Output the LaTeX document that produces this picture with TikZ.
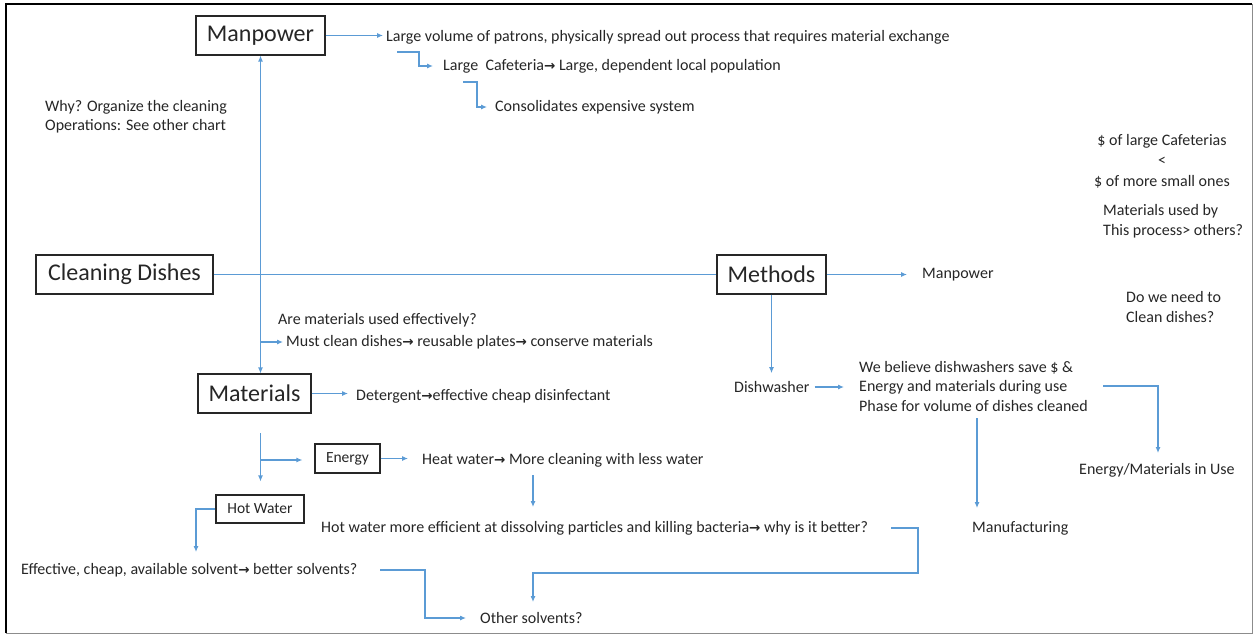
\documentclass[tikz,border=0pt]{standalone}
\usepackage{fontspec}
\setmainfont{Carlito}
\newfontfamily\dejavu{DejaVu Sans}
\usetikzlibrary{arrows.meta,calc}
\definecolor{lnblue}{RGB}{91,155,213}
\definecolor{txt}{RGB}{38,38,38}
\newcommand{\rarr}{{\dejavu\bfseries\fontsize{13.5}{13.5}\selectfont →}}
\tikzset{
  box/.style={draw=black!85, line width=1.1pt, inner sep=0pt, text=txt},
  bigbox/.style={box, font=\fontsize{24}{28}\selectfont, minimum height=39pt},
  midbox/.style={box, font=\fontsize{15.5}{18}\selectfont},
  txtn/.style={inner sep=0pt, anchor=west, text=txt, font=\fontsize{16}{19.5}\selectfont},
  arr/.style={draw=lnblue, line width=1.1pt, -{Latex[length=6pt,width=5pt]}},
  darr/.style={draw=lnblue, line width=1.1pt, {Latex[length=6pt,width=5pt]}-{Latex[length=6pt,width=5pt]}},
  ln/.style={draw=lnblue, line width=1.1pt}
}
\begin{document}
\begin{tikzpicture}[x=1pt,y=-1pt]
\useasboundingbox (0,0) rectangle (1255,634);
% frame
\draw[black, line width=2pt] (6,633) -- (6,4) -- (1252,4);
\draw[black!45, line width=1pt] (1252,4) -- (1252,633) -- (6,633);

% boxes
\node[bigbox, minimum width=129pt] (manpower) at (260.5,35.5) {Manpower};
\node[bigbox, minimum width=177pt] (cleaning) at (124.5,274.5) {Cleaning Dishes};
\node[bigbox, minimum width=109pt] (methods) at (771.5,274.5) {Methods};
\node[bigbox, minimum width=113pt] (materials) at (254.5,393.5) {Materials};
\node[midbox, minimum width=65pt, minimum height=29pt] (energy) at (347.5,458.5) {Energy};
\node[midbox, minimum width=88pt, minimum height=28pt] (hotwater) at (260,509) {Hot Water};

% texts
\node[txtn] (t1) at (386,37) {Large volume of patrons, physically spread out process that requires material exchange};
\node[txtn] (t2) at (443,66) {Large\ \ Cafeteria\rarr\ Large, dependent\ local population};
\node[txtn] (t3) at (495,107) {Consolidates expensive system};
\node[txtn, align=left] (why) at (45,116.5) {Why? Organize the cleaning\\Operations: See other chart};
\node[txtn] (are) at (278,320) {Are materials used effectively?};
\node[txtn] (must) at (286,342) {Must clean\ dishes\rarr\ reusable plates\rarr\ conserve\ materials};
\node[txtn] (det) at (356,396) {Detergent\rarr effective\ cheap disinfectant};
\node[txtn] (heat) at (422,460) {Heat water\rarr\ More cleaning with less water};
\node[txtn] (hot) at (321,528) {Hot water more efficient at dissolving particles and killing bacteria\rarr\ why is it better?};
\node[txtn] (eff) at (21,570) {Effective, cheap, available solvent\rarr\ better solvents?};
\node[txtn] (other) at (480,618) {Other solvents?};
\node[txtn] (mp2) at (922,275) {Manpower};
\node[txtn] (dish) at (734,387) {Dishwasher};
\node[txtn, align=left] (believe) at (859,386) {We believe\ dishwashers save \$ \&\\Energy and materials during use\\Phase for volume of dishes cleaned};
\node[txtn] (manuf) at (972,528) {Manufacturing};
\node[txtn] (emu) at (1079,470) {Energy/Materials in Use};
\node[txtn, anchor=center, align=center, font=\fontsize{16}{20.5}\selectfont] (cost) at (1162,161) {\$ of large Cafeterias\\<\\\$ of more small ones};
\node[txtn, anchor=west, align=left, font=\fontsize{16}{20.5}\selectfont] (matby) at (1103,221) {Materials used by\\This process> others?};
\node[txtn, anchor=west, align=left, font=\fontsize{16}{20.5}\selectfont] (need) at (1126,307) {Do we need to\\Clean dishes?};

% coordinates for free ends
\coordinate (e1) at (397,52);
\coordinate (e1c) at (419,52);
\coordinate (e2) at (463,82);
\coordinate (e2c) at (477,82);
\coordinate (mj) at (260.5,342);
\coordinate (mb) at (260.5,433);
\coordinate (eb) at (260.5,460);
\coordinate (hb) at (533,475);
\coordinate (hbt) at (533,507);
\coordinate (hwt) at (196,552);
\coordinate (ef1) at (380,570);
\coordinate (ef2) at (425,570);
\coordinate (h1) at (891,528);
\coordinate (h2) at (918,528);
\coordinate (h3) at (918,573);
\coordinate (h4) at (533,573);
\coordinate (h5) at (533,602);
\coordinate (bm1) at (977,418);
\coordinate (bm2) at (977,508);
\coordinate (be1) at (1103,386);
\coordinate (be2) at (1158,386);
\coordinate (be3) at (1158,453);

% connectors
\draw[arr, shorten >=3pt] (manpower.east) -- (manpower.east -| t1.west);
\draw[arr, shorten >=10pt] (e1) -- (e1c) |- (t2.west);
\draw[arr, shorten >=8pt] (e2) -- (e2c) |- (t3.west);
\draw[darr] (manpower.south) -- (manpower.south |- materials.north);
\draw[ln] (cleaning.east) -- (methods.west);
\draw[arr, shorten >=3pt] (mj) -- (must.west);
\draw[arr, shorten >=8pt] (materials.east) -- (materials.east -| det.west);
\draw[arr, shorten >=13pt] (mb) -- (mb |- hotwater.north);
\draw[arr, shorten >=12pt] (eb) -- (eb -| energy.west);
\draw[arr, shorten >=14pt] (energy.east) -- (energy.east -| heat.west);
\draw[arr] (hb) -- (hbt);
\draw[arr] (hotwater.west) -| (hwt);
\draw[arr, shorten >=14pt] (ef1) -- (ef2) |- (other.west);
\draw[arr] (h1) -- (h2) -- (h3) -- (h4) -- (h5);
\draw[arr, shorten >=15pt] (methods.east) -- (methods.east -| mp2.west);
\draw[arr, shorten >=8pt] (methods.south) -- (methods.south |- dish.north);
\draw[arr, shorten <=5pt, shorten >=15pt] (dish.east) -- (dish.east -| believe.west);
\draw[arr] (bm1) -- (bm2);
\draw[arr] (be1) -- (be2) -- (be3);
\end{tikzpicture}
\end{document}
